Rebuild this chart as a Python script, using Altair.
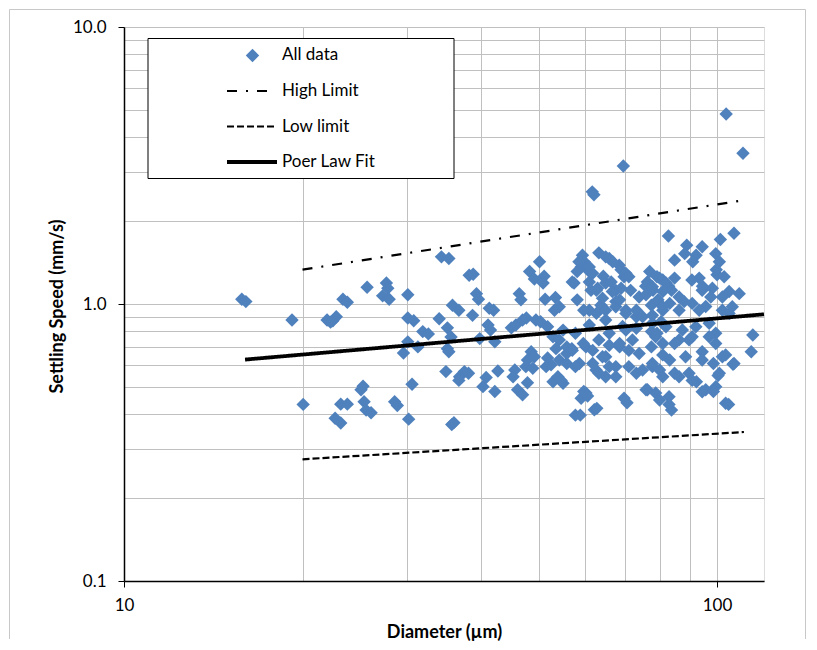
import altair as alt
import pandas as pd

# ---------------- data ----------------
diam_left = [15.8, 16.05, 19.2, 20.05, 22.0, 22.5, 22.8, 22.3, 23.4, 23.8,
             25.7, 27.7, 27.85, 27.3, 28.0, 30.1, 30.1, 30.8, 31.9, 30.1,
             29.6, 31.3, 30.6, 25.3, 25.1, 25.4, 25.6, 26.1, 23.2, 23.8,
             22.7, 23.2, 28.6, 28.9, 30.2, 35.7, 36.0]
speed_left = [1.04, 1.02, 0.875, 0.434, 0.875, 0.87, 0.90, 0.86, 1.04, 1.015,
              1.15, 1.19, 1.14, 1.07, 1.04, 1.08, 0.89, 0.87, 0.795, 0.73,
              0.665, 0.70, 0.513, 0.505, 0.49, 0.444, 0.414, 0.405, 0.435, 0.435,
              0.387, 0.372, 0.444, 0.43, 0.384, 0.367, 0.373]

diam_mid = [34.3, 35.3, 38.2, 38.8, 39.3, 39.6, 35.8, 36.7, 34.0, 38.7,
            42.0, 35.1, 35.6, 32.6, 35.1, 35.3, 39.8, 41.1, 41.5, 42.2,
            46.4, 46.7, 48.3, 49.2, 50.2, 51.1, 50.9, 51.3, 53.4, 53.2,
            45.0, 45.8, 47.0, 47.7, 49.5, 50.4, 51.8, 52.9, 54.2, 53.5,
            55.8, 48.6, 47.9, 49.2, 47.6, 48.9, 51.8, 52.5, 51.5, 34.9,
            36.8, 37.5, 38.1, 36.7, 40.8, 42.7, 40.3, 42.2, 45.6, 45.3,
            47.9, 46.1, 47.0, 52.9, 53.9, 55.0, 41.3, 54.2]
speed_mid = [1.48, 1.46, 1.27, 1.28, 1.09, 1.04, 0.99, 0.95, 0.885, 0.91,
             0.95, 0.82, 0.76, 0.78, 0.69, 0.672, 0.75, 0.84, 0.805, 0.73,
             1.09, 1.035, 1.31, 1.23, 1.42, 1.26, 1.19, 1.04, 1.055, 0.95,
             0.82, 0.84, 0.875, 0.89, 0.875, 0.863, 0.828, 0.762, 0.742, 0.69,
             0.663, 0.672, 0.628, 0.645, 0.594, 0.586, 0.638, 0.603, 0.594, 0.57,
             0.546, 0.57, 0.562, 0.53, 0.543, 0.573, 0.503, 0.483, 0.578, 0.546,
             0.52, 0.49, 0.47, 0.524, 0.546, 0.517, 0.965, 0.628]

diam_right = [61.6, 62.0, 69.5, 103.6, 110.6, 82.8, 88.9, 94.4, 101.3, 106.8,
              59.3, 63.2, 65.8, 68.4, 59.0, 60.9, 69.7, 77.0, 84.8, 88.2,
              92.2, 91.0, 99.5, 100.9, 102.8, 93.3, 57.4, 60.9, 62.9, 64.9,
              67.5, 71.5, 76.3, 81.0, 84.8, 83.8, 88.0, 94.4, 98.2, 104.8,
              109.0, 102.1, 58.1, 60.9, 63.7, 67.5, 70.2, 73.1, 77.5, 81.0,
              86.3, 90.8, 95.7, 102.1, 104.8, 60.9, 64.9, 69.3, 73.1, 77.8,
              82.0, 87.4, 92.1, 97.0, 99.5, 114.9, 114.2, 56.9, 60.1, 63.2,
              64.9, 68.5, 72.0, 77.5, 81.0, 84.8, 89.7, 94.4, 99.5, 102.1,
              106.8, 58.6, 62.5, 64.9, 67.5, 73.1, 77.8, 81.0, 84.8, 89.7,
              92.3, 95.7, 99.5, 100.9, 60.1, 59.0, 69.7, 76.3, 78.8, 83.0,
              83.8, 57.7, 62.1, 103.4, 104.6, 106.4, 100.4,
              62.7, 70.5, 94.4, 58.8, 100.0, 59.7, 66.7, 58.1, 61.3, 64.3,
              66.3, 80.0, 75.8, 78.0, 82.9, 90.7, 94.5, 83.0,
              64.9, 68.9, 70.2, 71.0, 58.5, 60.9, 61.7, 57.0, 62.6, 66.6,
              68.9, 73.9, 77.8, 75.9, 79.5, 81.0, 59.6, 62.6, 64.9, 67.5,
              70.2, 73.1, 74.9, 77.8, 80.5, 64.1, 68.5, 54.2, 55.0, 57.7,
              65.8, 70.2, 77.5,
              55.8, 57.0, 59.5, 61.7, 64.1, 65.8, 68.5, 71.0, 73.9, 78.8,
              81.0, 55.8, 57.7, 61.7, 63.2, 65.8, 67.5, 71.0, 74.9, 77.8,
              80.0, 54.6, 59.6, 60.5, 75.9, 80.0,
              99.7, 79.2, 82.0, 81.0, 86.3, 97.6, 106.1, 93.3, 83.2, 79.2,
              86.3, 90.8, 97.0, 103.4, 83.2, 88.5, 94.4, 98.6, 86.3, 90.8, 98.6]
speed_right = [2.54, 2.48, 3.15, 4.85, 3.5, 1.76, 1.63, 1.61, 1.71, 1.80,
               1.50, 1.53, 1.46, 1.38, 1.36, 1.31, 1.255, 1.31, 1.44, 1.52,
               1.50, 1.42, 1.52, 1.42, 1.255, 1.24, 1.19, 1.20, 1.14, 1.19,
               1.12, 1.12, 1.20, 1.22, 1.24, 1.12, 1.02, 1.12, 1.14, 1.11,
               1.09, 1.06, 1.035, 0.95, 0.99, 1.02, 0.95, 0.90, 0.99, 0.95,
               0.95, 1.005, 0.98, 0.95, 0.925, 0.84, 0.875, 0.83, 0.817, 0.852,
               0.828, 0.806, 0.828, 0.852, 0.784, 0.773, 0.672, 0.69, 0.70, 0.742,
               0.645, 0.70, 0.742, 0.70, 0.655, 0.72, 0.742, 0.672, 0.72, 0.645,
               0.61, 0.61, 0.578, 0.546, 0.594, 0.562, 0.594, 0.546, 0.562, 0.562,
               0.524, 0.49, 0.503, 0.562, 0.477, 0.457, 0.457, 0.49, 0.477, 0.463,
               0.414, 0.397, 0.415, 0.438, 0.434, 0.606, 0.552,
               0.42, 0.44, 0.482, 0.397, 1.275, 1.42, 1.42, 1.31, 1.12, 1.26,
               1.20, 1.24, 1.16, 1.12, 1.16, 1.22, 1.16, 0.434,
               1.48, 1.33, 1.29, 1.255, 1.42, 1.36, 1.29, 1.20, 1.12, 1.11,
               1.14, 1.06, 1.155, 1.08, 1.035, 0.978, 0.95, 0.925, 0.95, 0.978,
               0.925, 0.95, 0.90, 0.91, 0.863, 1.05, 1.035, 0.978, 0.805, 0.784,
               0.784, 0.806, 0.795,
               0.70, 0.68, 0.72, 0.68, 0.645, 0.71, 0.72, 0.68, 0.663, 0.762,
               0.72, 0.61, 0.594, 0.61, 0.562, 0.594, 0.546, 0.594, 0.578, 0.61,
               0.578, 0.53, 0.483, 0.465, 0.49, 0.45,
               1.33, 1.255, 1.19, 1.11, 1.06, 1.06, 0.978, 0.95, 1.005, 0.784,
               0.742, 0.762, 0.762, 0.655, 0.628, 0.645, 0.628, 0.61, 0.546, 0.53, 0.483]

series_names = ["All data", "High Limit", "Low limit", "Poer Law Fit"]
high_d, high_v = [20, 111], [1.33, 2.37]
low_d, low_v = [20, 111], [0.275, 0.345]
fit_d, fit_v = [16, 120], [0.63, 0.918]

x_ticks = [10, 20, 30, 40, 50, 60, 70, 80, 90, 100]
y_ticks = [0.1, 0.2, 0.3, 0.4, 0.5, 0.6, 0.7, 0.8, 0.9,
           1, 2, 3, 4, 5, 6, 7, 8, 9, 10]

x_title = "Diameter (µm)"
y_title = "Settling Speed (mm/s)"

# ---------------- tables ----------------
pts = pd.DataFrame({"D": diam_left + diam_mid + diam_right,
                    "V": speed_left + speed_mid + speed_right})
lines = pd.DataFrame({
    "series": [series_names[1]] * 2 + [series_names[2]] * 2 + [series_names[3]] * 2,
    "D": high_d + low_d + fit_d,
    "V": high_v + low_v + fit_v,
})
one = pd.DataFrame({"k": [0]})

BLUE = "#4F81BD"
FONT = "Lato"
DSIZE = 180

xs = alt.Scale(type="log", domain=[10, 120], nice=False)
ys = alt.Scale(type="log", domain=[0.1, 10], nice=False)

x_axis = alt.Axis(
    values=x_ticks, format="d", title=x_title,
    labelExpr="datum.value == 10 || datum.value == 100 ? datum.label : ''",
    grid=True, gridColor="#c0c0c0", gridWidth=1,
    tickSize=6, tickColor={"condition": {"test": "datum.value == 10 || datum.value == 100", "value": "black"}, "value": "transparent"},
    domainColor="black", domainWidth=1.5,
    labelFont=FONT, labelFontSize=17, labelColor="black", labelPadding=10,
    labelFlush=False, labelOverlap=False,
    titleFont=FONT, titleFontSize=18, titleFontWeight="bold", titleColor="black",
    titleBaseline="middle", titleX=320, titleY=51,
)
y_axis = alt.Axis(
    values=y_ticks, format=".1f", title=y_title,
    labelExpr="datum.value == 0.1 || datum.value == 1 || datum.value == 10 ? datum.label : ''",
    grid=True, gridColor="#c0c0c0", gridWidth=1,
    tickSize=6, tickColor={"condition": {"test": "datum.value == 0.1 || datum.value == 1 || datum.value == 10", "value": "black"}, "value": "transparent"},
    domainColor="black", domainWidth=1.5,
    labelFont=FONT, labelFontSize=17, labelColor="black", labelPadding=12,
    labelFlush=False, labelOverlap=False,
    titleFont=FONT, titleFontSize=18, titleFontWeight="bold", titleColor="black",
    titleBaseline="middle", titleX=-67, titleY=279,
)

X = alt.X("D:Q", scale=xs, axis=x_axis)
Y = alt.Y("V:Q", scale=ys, axis=y_axis)

points = alt.Chart(pts).mark_point(
    shape="diamond", filled=True, size=DSIZE, color=BLUE, opacity=1, strokeWidth=0
).encode(x=X, y=Y)

def line_layer(name, dash, width):
    return alt.Chart(lines).transform_filter(alt.datum.series == name).mark_line(
        color="black", strokeDash=dash, strokeWidth=width
    ).encode(x=X, y=Y)

high = line_layer(series_names[1], [10, 9, 2, 9], 2.2)
low = line_layer(series_names[2], [7, 3], 2.2)
fit = line_layer(series_names[3], [1, 0], 3.8)

# outer chart frame (decoration)
FR = "#c8c8c8"
frame_l = alt.Chart(one).mark_rule(color=FR, strokeWidth=1).encode(
    x=alt.value(-114.5), y=alt.value(-17.5), y2=alt.value(612))
frame_t = alt.Chart(one).mark_rule(color=FR, strokeWidth=1).encode(
    x=alt.value(-114.5), x2=alt.value(681.5), y=alt.value(-17.5))
frame_r = alt.Chart(one).mark_rule(color=FR, strokeWidth=1).encode(
    x=alt.value(681.5), y=alt.value(-17.5), y2=alt.value(612))

# legend (drawn inside plot)
lg_box = alt.Chart(one).mark_rect(fill="white", stroke="black", strokeWidth=1).encode(
    x=alt.value(24), x2=alt.value(330), y=alt.value(11.5), y2=alt.value(151.5))
lg_diamond = alt.Chart(one).mark_point(
    shape="diamond", filled=True, size=DSIZE, color=BLUE, opacity=1, strokeWidth=0
).encode(x=alt.value(128.5), y=alt.value(28.5))
lg_high = alt.Chart(one).mark_rule(color="black", strokeWidth=2.2, strokeDash=[10, 9, 2, 9]).encode(
    x=alt.value(103), x2=alt.value(143), y=alt.value(64))
lg_low = alt.Chart(one).mark_rule(color="black", strokeWidth=2.2, strokeDash=[7, 3]).encode(
    x=alt.value(103), x2=alt.value(153), y=alt.value(99.5))
lg_fit = alt.Chart(one).mark_rule(color="black", strokeWidth=3.8).encode(
    x=alt.value(103), x2=alt.value(153), y=alt.value(135))
lg_texts = [
    alt.Chart(one).mark_text(align="left", baseline="middle", font=FONT, fontSize=17, color="black").encode(
        x=alt.value(158), y=alt.value(yy), text=alt.value(name))
    for name, yy in zip(series_names, [28, 64, 99.5, 135])
]

chart = alt.layer(
    frame_l, frame_t, frame_r, points, high, low, fit,
    lg_box, lg_diamond, lg_high, lg_low, lg_fit, *lg_texts
).properties(
    width=640, height=554, padding=1
).configure_view(
    stroke="black", strokeWidth=1.5
).configure(background="white")

chart.save("out.html", embed_options={"renderer": "svg", "actions": False})
